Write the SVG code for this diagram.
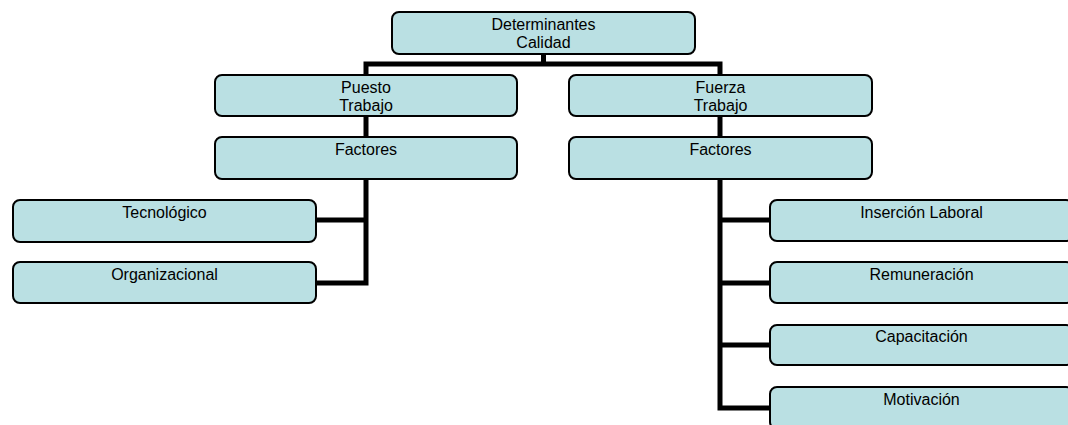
<svg xmlns="http://www.w3.org/2000/svg" width="1068" height="425" viewBox="0 0 1068 425">
<style>
.box{fill:#bae0e3;stroke:#000;stroke-width:2}
.lbl{font-family:"Liberation Sans",Arial,sans-serif;font-size:16px;fill:#000;text-anchor:middle}
.con{fill:none;stroke:#000;stroke-width:5;stroke-linejoin:miter;stroke-linecap:butt}
</style>
<rect width="1068" height="425" fill="#fff"/>
<g id="connectors">
<path class="con" d="M543.5,54 V64"/>
<path class="con" d="M366,75 V64 H720 V75"/>
<path class="con" d="M366,116 V137"/>
<path class="con" d="M720,116 V137"/>
<path class="con" d="M366,179 V283 H316"/>
<path class="con" d="M366,220 H316"/>
<path class="con" d="M720,179 V408 H770"/>
<path class="con" d="M720,220 H770"/>
<path class="con" d="M720,283 H770"/>
<path class="con" d="M720,345 H770"/>
</g>
<g id="n-determinantes">
<rect class="box" x="392" y="12" width="303" height="42" rx="7"/>
<text class="lbl" x="543.5" y="30">Determinantes</text>
<text class="lbl" x="543.5" y="48">Calidad</text>
</g>
<g id="n-puesto">
<rect class="box" x="215" y="75" width="302" height="41" rx="7"/>
<text class="lbl" x="366" y="93">Puesto</text>
<text class="lbl" x="366" y="111">Trabajo</text>
</g>
<g id="n-fuerza">
<rect class="box" x="569" y="75" width="303" height="41" rx="7"/>
<text class="lbl" x="720.5" y="93">Fuerza</text>
<text class="lbl" x="720.5" y="111">Trabajo</text>
</g>
<g id="n-factores-left">
<rect class="box" x="215" y="137" width="302" height="42" rx="7"/>
<text class="lbl" x="366" y="155">Factores</text>
</g>
<g id="n-factores-right">
<rect class="box" x="569" y="137" width="303" height="42" rx="7"/>
<text class="lbl" x="720.5" y="155">Factores</text>
</g>
<g id="n-tecnologico">
<rect class="box" x="13" y="200" width="303" height="42" rx="7"/>
<text class="lbl" x="164.5" y="218">Tecnológico</text>
</g>
<g id="n-organizacional">
<rect class="box" x="13" y="262" width="303" height="41" rx="7"/>
<text class="lbl" x="164.5" y="280">Organizacional</text>
</g>
<g id="n-insercion">
<rect class="box" x="770" y="200" width="303" height="41" rx="7"/>
<text class="lbl" x="921.5" y="218">Inserción Laboral</text>
</g>
<g id="n-remuneracion">
<rect class="box" x="770" y="262" width="303" height="41" rx="7"/>
<text class="lbl" x="921.5" y="280">Remuneración</text>
</g>
<g id="n-capacitacion">
<rect class="box" x="770" y="325" width="303" height="40" rx="7"/>
<text class="lbl" x="921.5" y="342">Capacitación</text>
</g>
<g id="n-motivacion">
<rect class="box" x="770" y="387" width="303" height="42" rx="7"/>
<text class="lbl" x="921.5" y="405">Motivación</text>
</g>
</svg>
